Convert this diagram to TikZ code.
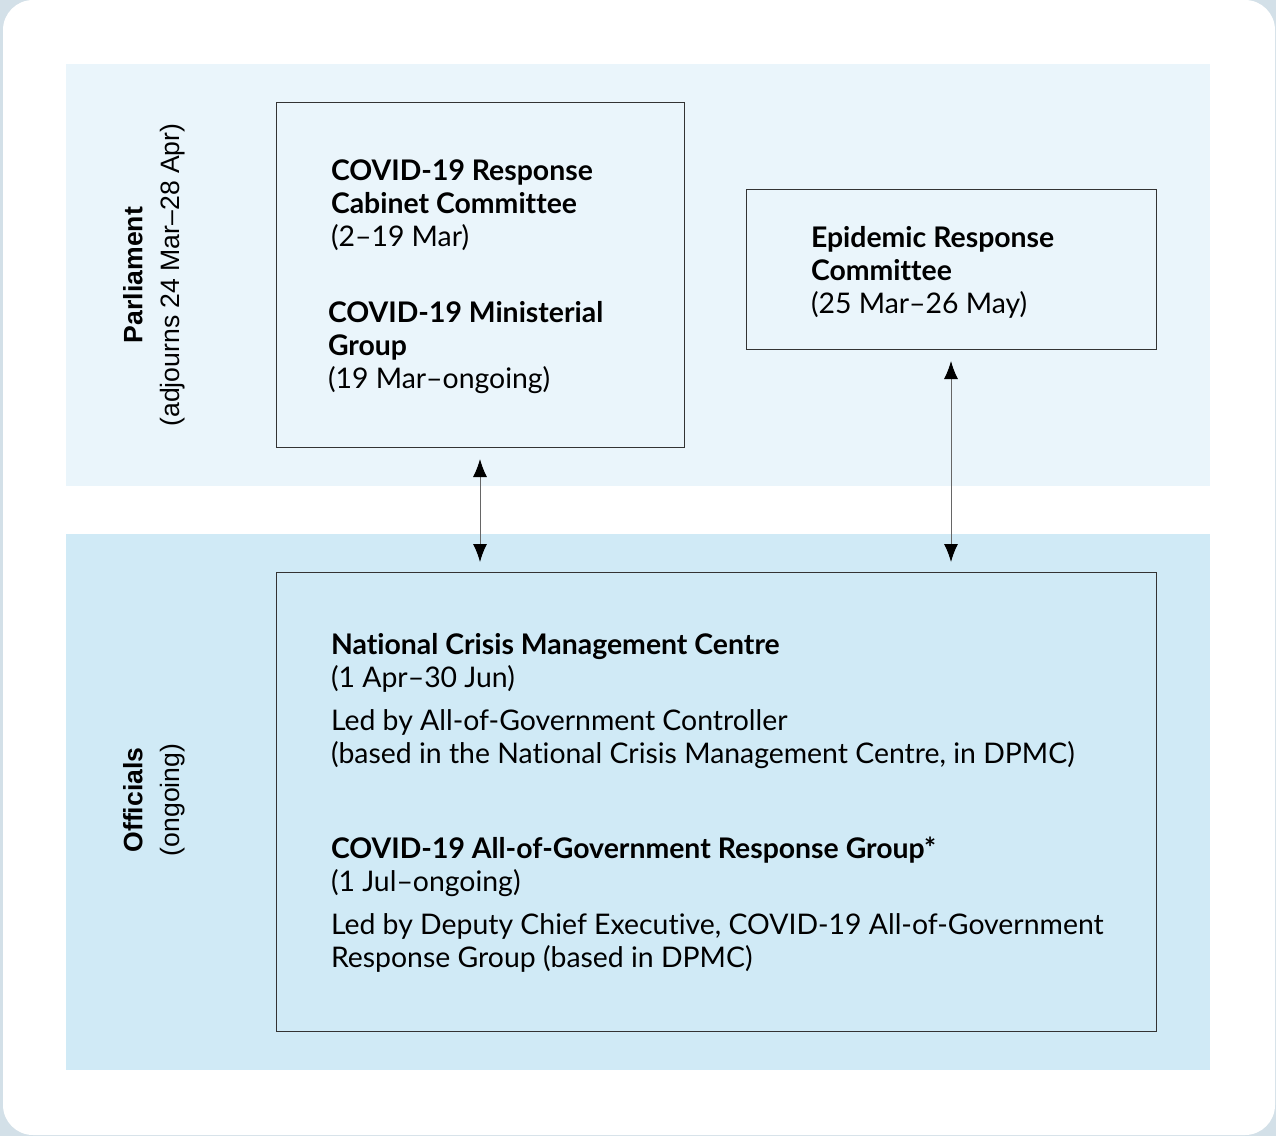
\documentclass[tikz,border=0pt]{standalone}
\usepackage{fontspec}
\setmainfont{Lato}[Ligatures={NoCommon,TeX}]
\newfontfamily\sidefont{Liberation Sans}
\usetikzlibrary{arrows.meta}
\definecolor{topband}{HTML}{EAF5FB}
\definecolor{lowband}{HTML}{D0EAF6}
\definecolor{outside}{HTML}{D3E0E8}
\begin{document}
\begin{tikzpicture}[x=0.5pt, y=-0.5pt,
	every node/.style={inner sep=0pt, outer sep=0pt},
	frame/.style={draw=black!80, line width=0.5pt, anchor=north west},
	blocktext/.style={anchor=base west, align=left, font=\fontsize{14.2}{16.5}\selectfont},
	sidelabel/.style={rotate=90, align=center, font=\sidefont\fontsize{13.3}{18.5}\selectfont},
	twoway/.style={{Latex[length=9pt, width=7pt, black]}-{Latex[length=9pt, width=7pt, black]}, draw=black!60, line width=0.5pt}]
	\useasboundingbox (0,0) rectangle (1276,1136);
	% background
	\fill[outside] (0,0) rectangle (1276,1136);
	\fill[white, rounded corners=15pt] (3,0) rectangle (1275,1135);
	\fill[topband] (66,64) rectangle (1210,486);
	\fill[lowband] (66,534) rectangle (1210,1070);
	% side labels
	\node[sidelabel] (parl) at (154,275) {\textbf{Parliament}\\(adjourns 24 Mar–28 Apr)};
	\node[sidelabel] (offi) at (154,800) {\textbf{Officials}\\(ongoing)};
	% boxes
	\node[frame, fill=topband, minimum width=204pt, minimum height=172.5pt] (cab) at (276,102) {};
	\node[frame, fill=topband, minimum width=205pt, minimum height=80pt] (erc) at (746,189) {};
	\node[frame, fill=lowband, minimum width=440pt, minimum height=229.5pt] (offbox) at (276,572) {};
	% texts (anchored on the baseline of their last line)
	\node[blocktext] (cabtxt) at (331,246) {\textbf{COVID-19 Response}\\\textbf{Cabinet Committee}\\(2–19 Mar)};
	\node[blocktext] (mintxt) at (328,388) {\textbf{COVID-19 Ministerial}\\\textbf{Group}\\(19 Mar–ongoing)};
	\node[blocktext] (erctxt) at (811,313) {\textbf{Epidemic Response}\\\textbf{Committee}\\(25 Mar–26 May)};
	\node[blocktext] (ncmc) at (331,763) {\textbf{National Crisis Management Centre}\\(1 Apr–30 Jun)\\[5pt]Led by All-of-Government Controller\\(based in the National Crisis Management Centre, in DPMC)};
	\node[blocktext] (aog) at (331,967) {\textbf{COVID-19 All-of-Government Response Group*}\\(1 Jul–ongoing)\\[5pt]Led by Deputy Chief Executive, COVID-19 All-of-Government\\Response Group (based in DPMC)};
	% links
	\draw[twoway, shorten <=6pt, shorten >=5pt] (cab.south) -- (cab.south |- offbox.north);
	\draw[twoway, shorten <=6pt, shorten >=5pt] (erc.south) -- (erc.south |- offbox.north);
\end{tikzpicture}
\end{document}
